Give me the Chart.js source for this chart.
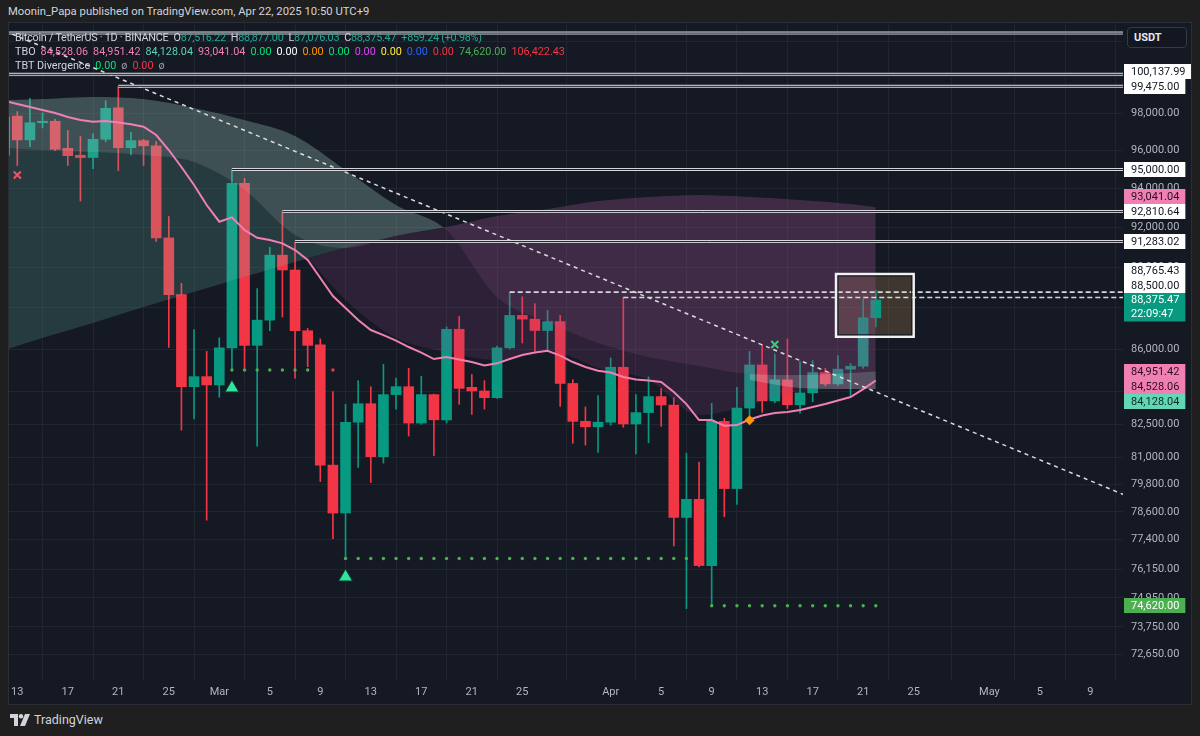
<!DOCTYPE html>
<html>
<head>
<meta charset="utf-8">
<script src="https://cdn.jsdelivr.net/npm/chart.js@4.4.1/dist/chart.umd.min.js"></script>
<style>
html,body{margin:0;padding:0;background:#1f1f1f;width:1200px;height:736px;overflow:hidden;font-family:Roboto,"Liberation Sans",sans-serif;}
#pane{position:absolute;left:8px;top:22px;width:1184px;height:683px;background:#151924;}
#c{position:absolute;left:0;top:0;}
#frame{position:absolute;left:8px;top:22px;width:1182px;height:681px;border:1px solid #2a2e39;pointer-events:none;}
.t{position:absolute;white-space:nowrap;font-size:11.3px;color:#d1d4dc;}
.lg{position:absolute;left:15px;white-space:nowrap;font-size:10.8px;color:#d1d4dc;line-height:14px;}
.lg span{margin-left:5px;}
#l2{letter-spacing:-0.25px;}
#l2 span{margin-left:5px;}
#usdt{position:absolute;left:1127px;top:27px;width:60px;height:21px;box-sizing:border-box;border:1px solid #363a45;border-radius:4px;background:#131722;color:#e6e8ee;font-weight:bold;font-size:11px;line-height:19px;padding-left:6px;}
#foot{position:absolute;left:10px;top:712px;color:#d1d4dc;font-size:12.5px;display:flex;align-items:center;}
</style>
</head>
<body>
<div class="t" style="left:8px;top:5px;">Moonin_Papa published on TradingView.com, Apr 22, 2025 10:50 UTC+9</div>
<div id="pane"><canvas id="c" width="1184" height="683"></canvas></div>
<div id="frame"></div>
<div class="lg" id="l2" style="top:31px;">Bitcoin / TetherUS · 1D · BINANCE<span>O<b style="font-weight:normal;color:#22ab94">87,516.22</b></span><span>H<b style="font-weight:normal;color:#22ab94">88,877.00</b></span><span>L<b style="font-weight:normal;color:#22ab94">87,076.03</b></span><span>C<b style="font-weight:normal;color:#22ab94">88,375.47</b></span><span style="color:#22ab94">+859.24 (+0.98%)</span></div>
<div class="lg" style="top:45px;">TBO<span style="color:#f07fb4">84,528.06</span><span style="color:#f07fb4">84,951.42</span><span style="color:#5fd3b2">84,128.04</span><span style="color:#f07fb4">93,041.04</span><span style="color:#00e676">0.00</span><span style="color:#ffffff">0.00</span><span style="color:#ff9800">0.00</span><span style="color:#00e676">0.00</span><span style="color:#e040fb">0.00</span><span style="color:#ffeb3b">0.00</span><span style="color:#2962ff">0.00</span><span style="color:#f23645">0.00</span><span style="color:#4caf50">74,620.00</span><span style="color:#f23645">106,422.43</span></div>
<div class="lg" style="top:59px;">TBT Divergence<span style="color:#00e676">0.00</span><span style="color:#9598a1">ø</span><span style="color:#f23645">0.00</span><span style="color:#9598a1">ø</span></div>
<div id="usdt">USDT</div>
<div id="foot"><svg width="20" height="12" viewBox="0 0 20 12"><path d="M0 0h8v12H4V4H0z" fill="#d1d4dc"/><circle cx="11" cy="2.2" r="2.2" fill="#d1d4dc"/><path d="M15 0h5l-5 12h-5z" fill="#d1d4dc"/></svg><span style="margin-left:4px;">TradingView</span></div>
<script>
// ---------------- DATA ----------------
const firstDate = '2025-02-12';
const open  = [95760,97850,96570,97490,97570,96120,95750,95630,96600,98300,96150,96530,96250,91470,88640,84240,84710,
  84320,86070,94270,86190,87400,90600,89860,86890,86220,80660,78550,82600,83450,81040,83870,84240,82560,83870,82710,86960,84210,84040,83730,86070,87630,87450,86900,87330,84390,82640,82390,
  82600,85150,82520,83040,83780,83390,78360,79150,76300,82640,79620,83250,85260,83580,84560,83400,83950,84900,84370,85060,85200,87516.22];
const high  = [98100,98090,98820,98020,97680,97070,96750,96890,98690,99475,96980,96600,96480,92560,89200,86940,85900,
  86550,95000,94530,88940,91000,92810.64,91283.02,87000,86500,84010,83420,84520,84240,85290,84640,85100,84730,83900,87080,87580,84810,84520,86150,88765.43,88540,88200,87880,87630,84570,83300,83830,
  85590,88500,83870,84700,84160,83730,81200,80800,83470,82780,84210,85900,86230,85780,86500,85420,85470,85100,85700,85330,88430,88877];
const low   = [94900,95210,96210,97210,96000,95210,93360,95040,96470,94940,95770,95210,91290,86090,82240,82750,78240,
  83750,85020,85100,81510,86890,87550,84640,85180,79930,77440,76600,80560,79890,80750,83200,81970,82500,81080,82560,83420,82960,83200,83700,86020,86300,85900,85900,83330,81640,81560,81230,
  82460,82370,81160,81670,82410,77130,74500,76240,74620,78390,78930,82890,83050,83490,83220,83010,83540,84280,84300,83830,85100,87076.03];
const close = [97800,96570,97490,97570,96070,95730,95630,96600,98270,96150,96530,96250,91470,88640,84240,84710,84320,
  86070,94270,86190,87400,90600,89860,86890,86190,80660,78550,82600,83450,81040,83870,84240,82560,83870,82710,86960,84160,84040,83730,86070,87630,87450,86900,87330,84390,82640,82390,82600,
  85150,82520,83040,83780,83390,78360,79150,76300,82640,79620,83250,85260,83580,84560,83400,83950,84900,84370,85060,85200,87516.22,88375.47];
// TBO fast line (pink), one value per candle
const tboFast = [98669,98506,98342,98179,98016,97800,97637,97545,97583,97502,97405,97276,96830,96029,95130,94187,93150,
  92293,92518,91870,91479,91363,91196,90858,90357,89461,88574,87988,87405,86923,86682,86419,86109,85847,85538,85633,85515,85397,85231,85335,85538,85728,85847,85932,85704,85397,85161,84986,
  84902,84690,84573,84527,84456,83990,83434,82698,82698,82438,82470,82721,82905,83020,83065,83157,83296,83434,83596,83758,84130,84528.06];
// TBO cloud lines
const cloudDates  = ['2025-02-12','2025-02-15','2025-02-19','2025-02-23','2025-02-27','2025-03-03','2025-03-07','2025-03-11','2025-03-15','2025-03-19',
  '2025-03-23','2025-03-27','2025-03-31','2025-04-04','2025-04-08','2025-04-12','2025-04-16','2025-04-20','2025-04-22'];
const tboSlow     = [85966,86539,87260,88036,88770,89510,90257,90959,91565,92022,92584,92944,93356,93563,93667,93563,93408,93201,93041.04];
const tboMedium   = [98724,98780,98890,98780,98290,97640,96780,94970,93150,91870,88525,87308,86300,85633,85208,84831,84784,84878,84951.42];
const tboMedSlow  = [96136,96029,95870,95499,94710,93150,91110,88378,86539,85871,85491,85966,85113,84550,82928,83388,84037,84128,84128.04];
const shadeDates  = ['2025-02-12','2025-02-15','2025-02-19','2025-02-23','2025-02-27','2025-03-03','2025-03-07','2025-03-11','2025-03-15','2025-03-19'];
const shadeEdge   = [96136,96029,95923,95764,95394,93926,91616,90959,91565,92022];
const ribbonDates = ['2025-04-12','2025-04-16','2025-04-20','2025-04-22'];
const ribbonEdge  = [84550,84176,84128,84128.04];
// horizontal levels
const levelStarts  = ['2025-02-01','2025-02-01','2025-02-21','2025-03-02','2025-03-06','2025-03-07'];
const levelPrices  = [102450,100137.99,99475,95000,92810.64,91283.02];
const dashedStarts = ['2025-03-24','2025-04-02'];
const dashedPrices = [88765.43,88500];
const levelEndDate = '2025-05-15';
// trend line
const trendDates  = ['2025-02-12','2025-05-12'];
const trendPrices = [102568,79272];
// support dots
const supportStarts = ['2025-03-02','2025-03-11','2025-04-09'];
const supportEnds   = ['2025-03-10','2025-04-08','2025-04-22'];
const supportPrices = [85020,76600,74620];
// signals
const buyDates = ['2025-03-02','2025-03-11'];   const buyPrices = [84180,75819];
const sellXDates = ['2025-02-13'];              const sellXPrices = [94710];
const buyXDates = ['2025-04-14'];               const buyXPrices = [86230];
const diamondDates = ['2025-04-12'];            const diamondPrices = [82690];
// highlight box
const boxTimes  = ['2025-04-18T20:24:00Z','2025-04-25T00:00:00Z'];
const boxPrices = [89660,86600];
// axes
const xTickDates  = ['2025-02-13','2025-02-17','2025-02-21','2025-02-25','2025-03-01','2025-03-05','2025-03-09','2025-03-13','2025-03-17','2025-03-21','2025-03-25',
  '2025-04-01','2025-04-05','2025-04-09','2025-04-13','2025-04-17','2025-04-21','2025-04-25','2025-05-01','2025-05-05','2025-05-09'];
const xTickLabels = ['13','17','21','25','Mar','5','9','13','17','21','25','Apr','5','9','13','17','21','25','May','5','9'];
const yTicks = [102000,100000,98000,96000,94000,92000,90000,88000,86000,84000,82500,81000,79800,78600,77400,76150,74950,73750,72650];
const countdown = '22:09:47';

// ---------------- HELPERS ----------------
const ref = Date.parse('2025-02-13T00:00:00Z');
function dx(s){ return (Date.parse(s.length===10 ? s+'T00:00:00Z' : s) - ref)/864e5; }
const day0 = dx(firstDate);
const candleX = open.map((_,i)=>day0+i);
const pts = (dates, vals) => dates.map((d,i)=>({x:dx(d), y:vals[i]}));
const fmt = v => v.toLocaleString('en-US',{minimumFractionDigits:2,maximumFractionDigits:2});

const GREEN='#089981', RED='#f23645', PINK='#f07fb4';
const FONT = 'Roboto, "Liberation Sans", sans-serif';

const datasets = [];
function add(ds){ datasets.push(ds); return datasets.length-1; }

const candleColor = c => { const i=c.dataIndex; return close[i]>=open[i]?GREEN:RED; };
add({type:'bar', order:20, grouped:false, barThickness:1, borderWidth:0,
  data: candleX.map((x,i)=>({x, y:[low[i],high[i]]})), backgroundColor: candleColor});
add({type:'bar', order:19, grouped:false, barThickness:10, borderWidth:0, minBarLength:1,
  data: candleX.map((x,i)=>({x, y:[open[i],close[i]]})), backgroundColor: candleColor});

const base = {type:'line', borderWidth:0, pointRadius:0, cubicInterpolationMode:'monotone'};
const iSlow = add({...base, order:12, data: pts(cloudDates,tboSlow), fill:false});
const iMed  = add({...base, order:14, data: pts(cloudDates,tboMedium),
  fill:{target:iSlow, above:'rgba(110,195,175,0.20)', below:'rgba(170,100,160,0.17)'}});
add({...base, order:13, data: pts(cloudDates,tboMedSlow),
  fill:{target:iSlow, above:'rgba(0,0,0,0)', below:'rgba(150,70,140,0.18)'}});
add({...base, order:15, data: pts(shadeDates,shadeEdge),
  fill:{target:iMed, above:'rgba(0,0,0,0)', below:'rgba(225,210,220,0.15)'}});
add({...base, order:11, data: pts(ribbonDates,ribbonEdge),
  fill:{target:iMed, above:'rgba(225,220,232,0.25)', below:'rgba(225,220,232,0.25)'}});

add({type:'line', order:5, data: candleX.map((x,i)=>({x, y:tboFast[i]})), borderColor:PINK, borderWidth:2, pointRadius:0, tension:0});

// levels (double white lines)
levelPrices.forEach((p,i)=>{
  const d=[{x:dx(levelStarts[i]),y:p},{x:dx(levelEndDate),y:p}];
  add({type:'line', order:3, data:d, borderColor:'#d6d8dd', borderWidth:3, pointRadius:0});
  add({type:'line', order:2, data:d, borderColor:'#151924', borderWidth:1, pointRadius:0});
});
dashedPrices.forEach((p,i)=>{
  add({type:'line', order:2, data:[{x:dx(dashedStarts[i]),y:p},{x:dx(levelEndDate),y:p}], borderColor:'#d6d8dd', borderWidth:1.6, borderDash:[5,3], pointRadius:0});
});
add({type:'line', order:2, data: pts(trendDates,trendPrices), borderColor:'#dcdcdc', borderWidth:1.5, borderDash:[4,4], pointRadius:0});

// support dots
supportPrices.forEach((p,k)=>{
  const s=dx(supportStarts[k]), e=dx(supportEnds[k]); const d=[];
  for(let x=s;x<=e+1e-9;x++){ d.push({x, y:p}); }
  add({type:'line', order:1, showLine:false, data:d, pointRadius:1.7, pointBorderWidth:0,
    pointBackgroundColor: c => { const i=Math.round(c.raw.x-day0); return close[i] < p ? RED : '#4caf50'; }});
});
// signals
add({type:'line', order:0, showLine:false, data: pts(buyDates,buyPrices), pointStyle:'triangle', pointRadius:8, pointBackgroundColor:'#2ee59d', pointBorderColor:'#0f3d2e', pointBorderWidth:1});
add({type:'line', order:0, showLine:false, data: pts(sellXDates,sellXPrices), pointStyle:'crossRot', pointRadius:5, pointBorderColor:'#f7525f', pointBorderWidth:2});
add({type:'line', order:0, showLine:false, data: pts(buyXDates,buyXPrices), pointStyle:'crossRot', pointRadius:5, pointBorderColor:'#2bd67b', pointBorderWidth:2});
add({type:'line', order:0, showLine:false, data: pts(diamondDates,diamondPrices), pointStyle:'rectRot', pointRadius:5, pointBackgroundColor:'#ff9800', pointBorderWidth:0});

// ---------------- PLUGINS ----------------
const boxPlugin = {
  id:'box',
  beforeDatasetsDraw(chart){
    const {ctx, scales:{x,y}} = chart;
    const x0=x.getPixelForValue(dx(boxTimes[0])), x1=x.getPixelForValue(dx(boxTimes[1]));
    const y0=y.getPixelForValue(boxPrices[0]), y1=y.getPixelForValue(boxPrices[1]);
    ctx.save();
    ctx.fillStyle='rgba(150,118,70,0.33)';
    ctx.fillRect(x0,y0,x1-x0,y1-y0);
    ctx.restore();
  },
  afterDatasetsDraw(chart){
    const {ctx, scales:{x,y}} = chart;
    const x0=x.getPixelForValue(dx(boxTimes[0])), x1=x.getPixelForValue(dx(boxTimes[1]));
    const y0=y.getPixelForValue(boxPrices[0]), y1=y.getPixelForValue(boxPrices[1]);
    ctx.save();
    ctx.strokeStyle='#f0f0f0'; ctx.lineWidth=2.5;
    ctx.strokeRect(x0,y0,x1-x0,y1-y0);
    ctx.strokeStyle='#151924'; ctx.lineWidth=1;
    ctx.strokeRect(x0+2,y0+2,x1-x0-4,y1-y0-4);
    ctx.restore();
  }
};

const labelPlugin = {
  id:'priceLabels',
  afterDraw(chart){
    const {ctx, scales:{y}, chartArea} = chart;
    const L = [];
    levelPrices.forEach(p=>L.push({price:p, bg:'#ffffff', fg:'#131722'}));
    dashedPrices.forEach(p=>L.push({price:p, bg:'#ffffff', fg:'#131722'}));
    L.push({price:tboSlow[tboSlow.length-1], bg:PINK, fg:'#2b0f1d'});
    L.push({price:tboMedium[tboMedium.length-1], bg:PINK, fg:'#2b0f1d'});
    L.push({price:tboFast[tboFast.length-1], bg:PINK, fg:'#2b0f1d'});
    L.push({price:tboMedSlow[tboMedSlow.length-1], bg:'#63d6b6', fg:'#0d2b24'});
    L.push({price:supportPrices[supportPrices.length-1], bg:'#4caf50', fg:'#ffffff'});
    const last = close[close.length-1];
    const H=15, hh=7.5;
    L.forEach(l=>l.y=y.getPixelForValue(l.price));
    const ly = y.getPixelForValue(last);
    const curTop = ly-7, curBot = ly+21.5;
    const above = L.filter(l=>l.y<ly && l.y>25).sort((a,b)=>b.y-a.y);
    const below = L.filter(l=>l.y>=ly).sort((a,b)=>a.y-b.y);
    let lim = curTop;
    above.forEach(l=>{ l.cy=Math.min(l.y, lim-hh); lim=l.cy-hh; });
    lim = curBot;
    below.forEach(l=>{ l.cy=Math.max(l.y, lim+hh); lim=l.cy+hh; });
    const bx = chartArea.right+1;
    ctx.save();
    ctx.font = '11px '+FONT;
    ctx.textBaseline='middle'; ctx.textAlign='left';
    [...above,...below].forEach(l=>{
      const t=fmt(l.price); const w=ctx.measureText(t).width+13;
      ctx.fillStyle=l.bg; ctx.fillRect(bx, Math.round(l.cy-hh), w, H);
      ctx.fillStyle=l.fg; ctx.fillText(t, bx+7, l.cy+0.5);
    });
    const t=fmt(last); const w=ctx.measureText(t).width+13;
    ctx.fillStyle=GREEN; ctx.fillRect(bx, Math.round(curTop), w, curBot-curTop);
    ctx.fillStyle='#ffffff';
    ctx.fillText(t, bx+7, ly+0.5);
    ctx.fillText(countdown, bx+7, ly+14);
    ctx.restore();
  }
};

new Chart(document.getElementById('c').getContext('2d'), {
  type:'line',
  data:{datasets},
  options:{
    responsive:false, animation:false, devicePixelRatio:1,
    layout:{autoPadding:false, padding:{left:1,top:1,right:0,bottom:0}},
    plugins:{legend:{display:false}, tooltip:{enabled:false}},
    scales:{
      x:{type:'linear', position:'bottom', min:-0.657, max:87.58, offset:false, bounds:'data',
        grid:{color:'#21252f', drawTicks:false, lineWidth:1}, border:{display:false},
        afterBuildTicks:s=>{ s.ticks = xTickDates.map(d=>({value:dx(d)})); },
        afterFit:s=>{ s.height=25; s.paddingLeft=0; s.paddingRight=0; },
        ticks:{autoSkip:false, maxRotation:0, padding:6, color:'#b2b5be', font:{size:11, family:FONT},
          callback:(v,i)=>xTickLabels[i]}},
      y:{type:'logarithmic', position:'right', min:71617, max:103023, bounds:'data',
        grid:{color:'#21252f', drawTicks:false, lineWidth:1}, border:{display:false},
        afterBuildTicks:s=>{ s.ticks = yTicks.map(v=>({value:v})); },
        afterFit:s=>{ s.width=69; s.paddingTop=0; s.paddingBottom=0; },
        ticks:{autoSkip:false, padding:8, color:'#b2b5be', font:{size:11, family:FONT},
          callback:v=>fmt(v)}}
    }
  },
  plugins:[boxPlugin, labelPlugin]
});
</script>
</body>
</html>
